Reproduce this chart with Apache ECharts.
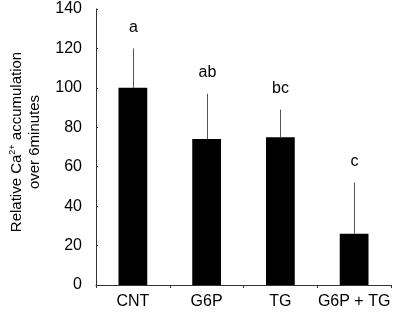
<!DOCTYPE html>
<html>
<head>
<meta charset="utf-8">
<script src="https://cdn.jsdelivr.net/npm/echarts@6/dist/echarts.min.js"></script>
<style>
  html, body { margin: 0; padding: 0; background: #fff; }
  #chart { width: 397px; height: 312px; }
</style>
</head>
<body>
<div id="chart"></div>
<script>
var categories = ['CNT', 'G6P', 'TG', 'G6P + TG'];
var means = [100, 74, 75, 26];
var errUpper = [120, 97, 89, 52];
var letters = ['a', 'ab', 'bc', 'c'];
var yTicks = [0, 20, 40, 60, 80, 100, 120, 140];

var chart = echarts.init(document.getElementById('chart'));

var font = 'Liberation Sans, Arial, sans-serif';

var option = {
    animation: false,
    grid: {
        left: 93,
        right: 6,
        top: 9,
        bottom: 27,
        containLabel: false
    },
    xAxis: {
        type: 'category',
        data: categories,
        axisLine: { lineStyle: { color: '#333', width: 1 } },
        axisTick: { show: true, length: 3, inside: false, lineStyle: { color: '#333' } },
        axisLabel: { interval: 0, color: '#000', fontSize: 16, fontFamily: font, margin: 9 }
    },
    yAxis: {
        type: 'value',
        min: yTicks[0],
        max: yTicks[yTicks.length - 1],
        interval: 20,
        splitLine: { show: false },
        axisLine: { show: true, lineStyle: { color: '#333', width: 1 } },
        axisTick: { show: true, inside: true, length: 2, lineStyle: { color: '#333' } },
        axisLabel: { color: '#000', fontSize: 16, fontFamily: font, margin: 14 },
        name: 'Relative Ca{sup|2+} accumulation\nover 6minutes',
        nameLocation: 'middle',
        nameRotate: 90,
        nameGap: 52,
        nameTextStyle: {
            color: '#000',
            fontSize: 15,
            fontFamily: font,
            lineHeight: 18,
            padding: [0, 0, 0, 10],
            rich: {
                sup: { fontSize: 9, verticalAlign: 'top', lineHeight: 18, fontFamily: font, color: '#000' }
            }
        }
    },
    series: [{
        type: 'bar',
        data: means,
        barWidth: '39%',
        itemStyle: { color: '#000' },
        z: 2
    }, {
        type: 'custom',
        z: 3,
        data: categories.map(function (c, i) { return [i, means[i], errUpper[i]]; }),
        renderItem: function (params, api) {
            var bottom = api.coord([api.value(0), api.value(1)]);
            var top = api.coord([api.value(0), api.value(2)]);
            var x = Math.round(bottom[0]) + 0.5;
            return {
                type: 'group',
                children: [{
                    type: 'line',
                    shape: { x1: x, y1: bottom[1], x2: x, y2: top[1] },
                    style: { stroke: '#555', lineWidth: 1 }
                }, {
                    type: 'text',
                    style: {
                        text: letters[params.dataIndex],
                        x: x,
                        y: top[1] - 21,
                        align: 'center',
                        verticalAlign: 'middle',
                        fontSize: 16,
                        fontFamily: font,
                        fill: '#000'
                    }
                }]
            };
        }
    }]
};

chart.setOption(option);
</script>
</body>
</html>
